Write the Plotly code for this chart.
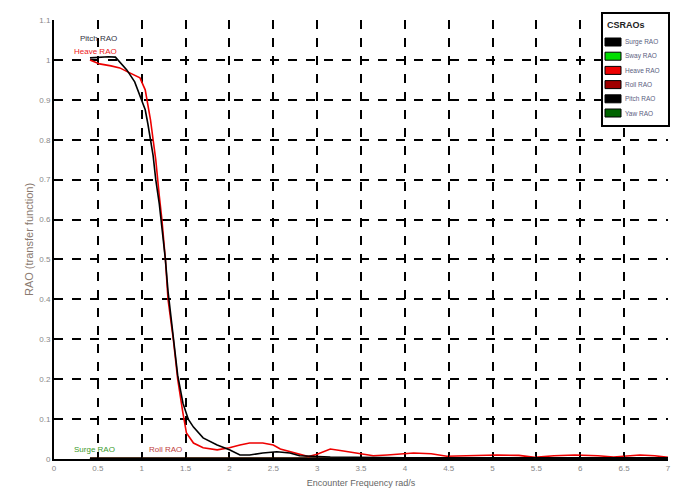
import plotly.graph_objects as go

# ---------------- data ----------------
heave_x = [0.41, 0.52, 0.65, 0.75, 0.84, 0.92, 0.98, 1.04, 1.07, 1.10, 1.13, 1.16, 1.20, 1.23,
           1.27, 1.30, 1.36, 1.41, 1.47, 1.51, 1.59, 1.70, 1.86, 2.00, 2.12, 2.23, 2.38, 2.50,
           2.58, 2.75, 2.90, 3.00, 3.15, 3.30, 3.45, 3.64, 3.80, 4.10, 4.30, 4.48, 4.70, 5.05,
           5.30, 5.48, 5.70, 5.94, 6.20, 6.38, 6.68, 6.85, 7.00]
heave_y = [1.000, 0.990, 0.985, 0.980, 0.970, 0.962, 0.955, 0.925, 0.890, 0.850, 0.800, 0.750,
           0.660, 0.600, 0.500, 0.400, 0.300, 0.200, 0.115, 0.065, 0.040, 0.028, 0.023, 0.028,
           0.035, 0.040, 0.040, 0.035, 0.025, 0.015, 0.006, 0.012, 0.025, 0.020, 0.015, 0.008,
           0.010, 0.015, 0.013, 0.007, 0.008, 0.010, 0.009, 0.004, 0.008, 0.010, 0.008, 0.005,
           0.010, 0.008, 0.004]

pitch_x = [0.41, 0.52, 0.62, 0.70, 0.77, 0.83, 0.92, 0.98, 1.04, 1.07, 1.10, 1.13, 1.16, 1.20,
           1.23, 1.27, 1.30, 1.36, 1.41, 1.47, 1.53, 1.59, 1.70, 1.86, 2.00, 2.12, 2.23, 2.38,
           2.54, 2.69, 2.80, 3.15, 3.50, 4.00, 5.00, 6.00, 7.00]
pitch_y = [1.005, 1.007, 1.008, 1.007, 0.990, 0.975, 0.945, 0.910, 0.875, 0.840, 0.800, 0.760,
           0.700, 0.640, 0.580, 0.500, 0.420, 0.310, 0.210, 0.140, 0.100, 0.080, 0.053, 0.035,
           0.023, 0.010, 0.010, 0.015, 0.018, 0.015, 0.008, 0.005, 0.004, 0.003, 0.003, 0.003,
           0.003]

minor_x = [0.41, 1.0, 2.0, 3.0, 4.0, 5.0, 6.0, 7.0]
surge_y = [0.002, 0.002, 0.002, 0.002, 0.002, 0.002, 0.002, 0.002]
sway_y = [0.001, 0.001, 0.001, 0.001, 0.001, 0.001, 0.001, 0.001]
roll_y = [0.002, 0.002, 0.002, 0.002, 0.002, 0.002, 0.002, 0.002]
yaw_y = [0.001, 0.001, 0.001, 0.001, 0.001, 0.001, 0.001, 0.001]

x_ticks = [0, 0.5, 1, 1.5, 2, 2.5, 3, 3.5, 4, 4.5, 5, 5.5, 6, 6.5, 7]
x_tick_text = ["0", "0.5", "1", "1.5", "2", "2.5", "3", "3.5", "4", "4.5", "5", "5.5", "6", "6.5", "7"]
y_ticks = [0, 0.1, 0.2, 0.3, 0.4, 0.5, 0.6, 0.7, 0.8, 0.9, 1.0, 1.1]
y_tick_text = ["0", "0.1", "0.2", "0.3", "0.4", "0.5", "0.6", "0.7", "0.8", "0.9", "1", "1.1"]

legend_names = ["Surge RAO", "Sway RAO", "Heave RAO", "Roll RAO", "Pitch RAO", "Yaw RAO"]
legend_colors = ["#000000", "#00dd00", "#ee0000", "#a00000", "#000000", "#006400"]
legend_title = "CSRAOs"

# ---------------- figure ----------------
W, H = 678, 488
ML, MR, MT, MB = 54, 10, 20, 29
FONT = "Liberation Sans Narrow, Liberation Sans, Arial, sans-serif"

fig = go.Figure()
series = [
    (minor_x, sway_y, legend_colors[1]),
    (minor_x, yaw_y, legend_colors[5]),
    (minor_x, roll_y, legend_colors[3]),
    (minor_x, surge_y, legend_colors[0]),
    (heave_x, heave_y, legend_colors[2]),
    (pitch_x, pitch_y, legend_colors[4]),
]
for xs, ys, c in series:
    fig.add_trace(go.Scatter(x=xs, y=ys, mode="lines", line=dict(color=c, width=1.6),
                             showlegend=False, hoverinfo="skip"))

# helper: pixel -> paper
def px_x(p):
    return (p - ML) / (W - ML - MR)

def px_y(p):
    return (H - MB - p) / (H - MT - MB)

shapes = []
annotations = []

# legend box (drawn manually)
shapes.append(dict(type="rect", xref="paper", yref="paper",
                   x0=px_x(602), x1=px_x(669), y0=px_y(126), y1=px_y(13),
                   line=dict(color="black", width=2), fillcolor="white", layer="above"))
annotations.append(dict(xref="paper", yref="paper", x=px_x(605), y=px_y(25), text="<b>" + legend_title + "</b>",
                        showarrow=False, xanchor="left", yanchor="middle",
                        font=dict(family=FONT, size=9, color="#222")))
for i, (name, col) in enumerate(zip(legend_names, legend_colors)):
    cy = 42 + i * 14.2
    shapes.append(dict(type="rect", xref="paper", yref="paper",
                       x0=px_x(605), x1=px_x(621), y0=px_y(cy + 4), y1=px_y(cy - 4),
                       line=dict(color="black", width=1), fillcolor=col, layer="above"))
    annotations.append(dict(xref="paper", yref="paper", x=px_x(623), y=px_y(cy), text=name,
                            showarrow=False, xanchor="left", yanchor="middle",
                            font=dict(family=FONT, size=6.5, color="#5a6080")))

# curve labels
labels = [
    ("Pitch RAO", 0.51, 1.053, "#333344"),
    ("Heave RAO", 0.47, 1.02, "#ee2020"),
    ("Surge RAO", 0.46, 0.025, "#3a9a2a"),
    ("Roll RAO", 1.27, 0.023, "#c04040"),
]
for t, lx, ly, c in labels:
    annotations.append(dict(x=lx, y=ly, xref="x", yref="y", text=t, showarrow=False,
                            xanchor="center", yanchor="middle",
                            font=dict(family=FONT, size=8, color=c)))

axis_common = dict(
    showgrid=True, gridcolor="black", gridwidth=1.5, griddash="dash",
    showline=True, linecolor="black", linewidth=2, mirror=False,
    ticks="inside", ticklen=4, tickcolor="black", tickwidth=1,
    zeroline=False, automargin=False,
    tickfont=dict(family=FONT, size=8, color="#888888"),
)

fig.update_layout(
    width=W, height=H,
    margin=dict(l=ML, r=MR, t=MT, b=MB),
    paper_bgcolor="white", plot_bgcolor="white",
    showlegend=False,
    xaxis=dict(range=[0, 7], tickvals=x_ticks, ticktext=x_tick_text,
               title=dict(text="Encounter Frequency rad/s", standoff=12,
                          font=dict(family=FONT, size=9, color="#666666")),
               **axis_common),
    yaxis=dict(range=[0, 1.1], tickvals=y_ticks, ticktext=y_tick_text,
               title=dict(text="RAO (transfer function)", standoff=3,
                          font=dict(family=FONT, size=11, color="#8a7a70")),
               **axis_common),
    shapes=shapes,
    annotations=annotations,
)

fig.write_html("out.html")
